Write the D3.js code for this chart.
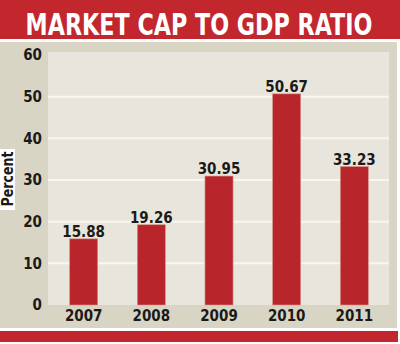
<!DOCTYPE html>
<html>
<head>
<meta charset="utf-8">
<script src="https://cdn.jsdelivr.net/npm/d3@7"></script>
<style>
    body { margin: 0; background: #fff; }
    svg { display: block; }
    text { font-family: "Liberation Sans Narrow", "DejaVu Sans Condensed", "Roboto", sans-serif; font-weight: bold; }
</style>
</head>
<body>
<svg id="chart" width="400" height="344"></svg>
<script>
const title = "MARKET CAP TO GDP RATIO"
const years = ["2007", "2008", "2009", "2010", "2011"]
const ratios = [15.88, 19.26, 30.95, 50.67, 33.23]
const yTicks = [0, 10, 20, 30, 40, 50, 60]
const yLabel = "Percent"

const layout = {
    red: "#c1272d",
    barFill: "#b8252b",
    outerBg: "#d9d5c5",
    plotBg: "#e8e6dc",
    gridStroke: "#f8f6f0",
    textColor: "#1c1a18",
}

let svg = d3.select("#chart")

// frame
svg.append("rect").attr("x", 0).attr("y", 0).attr("width", 400).attr("height", 344).attr("fill", "#fff")
svg.append("rect").attr("x", 0).attr("y", 0).attr("width", 400).attr("height", 39).attr("fill", layout.red)
svg.append("rect").attr("x", 0).attr("y", 42).attr("width", 397).attr("height", 286).attr("fill", layout.outerBg)
svg.append("rect").attr("x", 0).attr("y", 331).attr("width", 398).attr("height", 11).attr("fill", layout.red)

// title, squeezed horizontally to the width of the reference heading
let titleText = svg.append("text")
    .attr("text-anchor", "middle")
    .attr("fill", "#fff")
    .attr("font-size", 31)
    .text(title)
let titleW = titleText.node().getComputedTextLength()
titleText.attr("transform", `translate(199,35) scale(${347 / titleW},1)`)

const plot = { left: 48, right: 389, top: 52, bottom: 305 }

svg.append("rect")
    .attr("x", plot.left)
    .attr("y", plot.top)
    .attr("width", plot.right - plot.left)
    .attr("height", plot.bottom - plot.top)
    .attr("fill", layout.plotBg)

let y = d3.scaleLinear().domain([0, 60]).range([305, 55])
let x = d3.scaleBand().domain(years).range([50, 388]).paddingInner(0.585).paddingOuter(0.29)

// gridlines
svg.append("g")
    .selectAll("line")
    .data(yTicks.filter(d => d > 0 && d < 60))
    .join("line")
    .attr("x1", plot.left)
    .attr("x2", plot.right)
    .attr("y1", d => y(d))
    .attr("y2", d => y(d))
    .attr("stroke", layout.gridStroke)
    .attr("stroke-width", 2)

// y axis labels
let yAxis = svg.append("g")
    .attr("transform", `translate(42,0)`)
    .call(d3.axisLeft(y).tickValues(yTicks).tickSize(0).tickPadding(0))
yAxis.select(".domain").remove()
yAxis.selectAll("text")
    .attr("font-size", 15)
    .attr("fill", layout.textColor)
    .attr("font-family", null)

// Percent label box
svg.append("rect").attr("x", 0).attr("y", 149).attr("width", 15).attr("height", 61).attr("fill", "#fff")
svg.append("text")
    .attr("transform", "translate(13,179) rotate(-90)")
    .attr("text-anchor", "middle")
    .attr("font-size", 15)
    .attr("textLength", 55)
    .attr("lengthAdjust", "spacingAndGlyphs")
    .attr("fill", layout.textColor)
    .text(yLabel)

// bars
svg.append("g")
    .selectAll("rect")
    .data(ratios)
    .join("rect")
    .attr("x", (d, i) => x(years[i]))
    .attr("y", d => y(d))
    .attr("width", x.bandwidth())
    .attr("height", d => y(0) - y(d))
    .attr("fill", layout.barFill)
    .attr("stroke", "#d9968f")
    .attr("stroke-width", 0.6)

// value labels
svg.append("g")
    .selectAll("text")
    .data(ratios)
    .join("text")
    .attr("x", (d, i) => x(years[i]) + x.bandwidth() / 2)
    .attr("y", d => y(d) - 2)
    .attr("text-anchor", "middle")
    .attr("font-size", 15)
    .attr("fill", layout.textColor)
    .text(d => d.toFixed(2))

// x axis labels
let xAxis = svg.append("g")
    .attr("transform", `translate(0,310)`)
    .call(d3.axisBottom(x).tickSize(0).tickPadding(0))
xAxis.select(".domain").remove()
xAxis.selectAll("text")
    .attr("font-size", 15)
    .attr("fill", layout.textColor)
    .attr("font-family", null)
</script>
</body>
</html>
